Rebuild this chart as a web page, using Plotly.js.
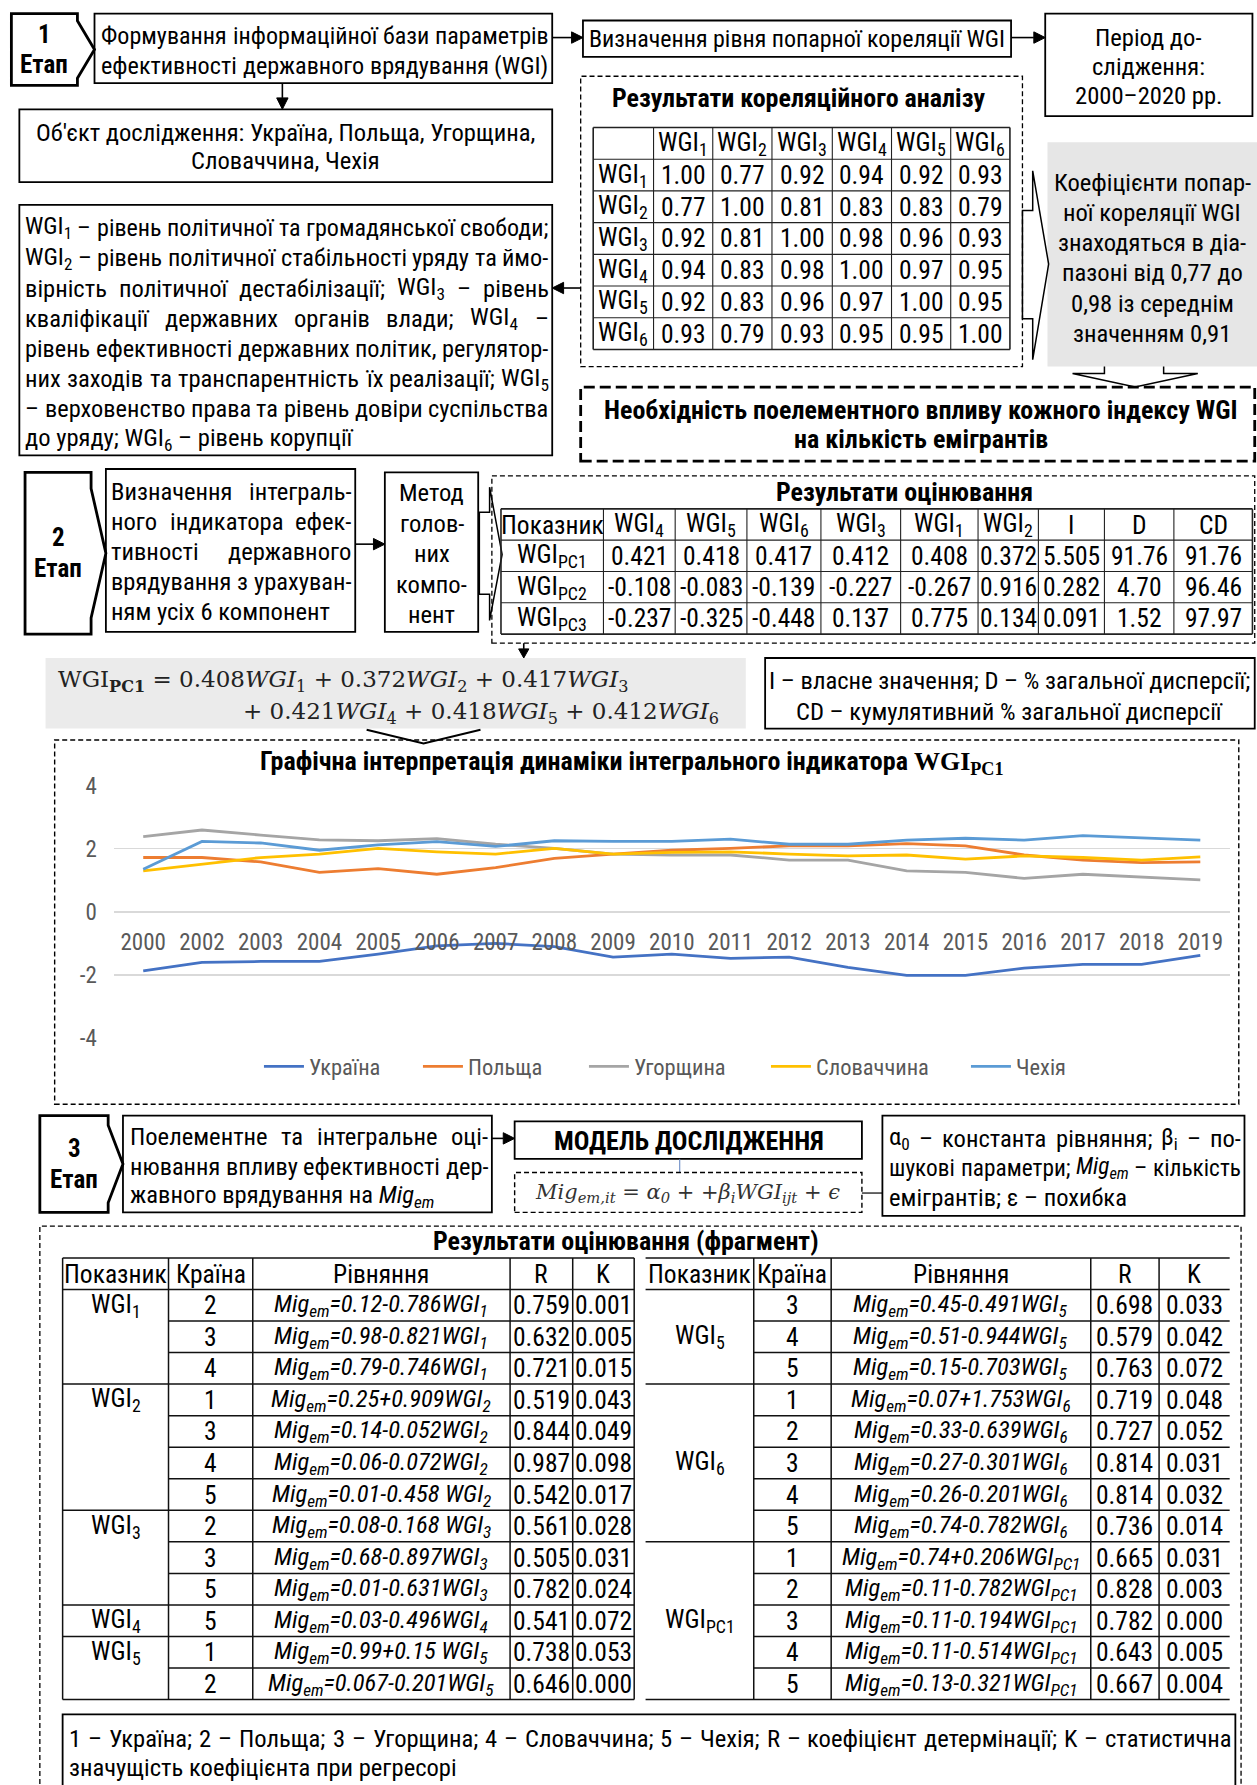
<!DOCTYPE html>
<html><head><meta charset="utf-8">
<script src="https://cdn.plot.ly/plotly-3.0.1.min.js"></script>
<style>html,body{margin:0;padding:0;background:#fff}</style>
</head><body>
<div id="chart" style="width:1257px;height:1785px"></div>
<script>
// ---------------- DATA ----------------
const years = ['2000','2002','2003','2004','2005','2006','2007','2008','2009','2010','2011','2012','2013','2014','2015','2016','2017','2018','2019'];
const countries = ['Україна','Польща','Угорщина','Словаччина','Чехія'];
const ukraine  = [-1.87,-1.60,-1.57,-1.57,-1.34,-1.08,-1.00,-1.10,-1.43,-1.34,-1.47,-1.43,-1.76,-2.01,-2.01,-1.78,-1.66,-1.66,-1.38];
const poland   = [1.72,1.72,1.58,1.25,1.37,1.19,1.40,1.69,1.83,1.95,2.01,2.09,2.09,2.16,2.09,1.80,1.64,1.56,1.58];
const hungary  = [2.38,2.59,2.43,2.28,2.25,2.32,2.14,2.01,1.83,1.80,1.80,1.64,1.64,1.30,1.25,1.06,1.19,1.11,1.01];
const slovakia = [1.30,1.51,1.72,1.83,2.01,1.90,1.83,2.01,1.83,1.88,1.90,1.83,1.77,1.80,1.67,1.77,1.72,1.64,1.74];
const czechia  = [1.35,2.23,2.18,1.95,2.12,2.22,2.07,2.25,2.23,2.23,2.30,2.14,2.14,2.27,2.33,2.27,2.41,2.33,2.27];
const seriesColors = ['#4472C4','#ED7D31','#A5A5A5','#FFC000','#5B9BD5'];
const yTickValues = [-4,-2,0,2,4];
const yTickLabels = ['-4','-2','0','2','4'];

const corrLabels = ['1','2','3','4','5','6'];
const corrMatrix = [
  [1.00,0.77,0.92,0.94,0.92,0.93],
  [0.77,1.00,0.81,0.83,0.83,0.79],
  [0.92,0.81,1.00,0.98,0.96,0.93],
  [0.94,0.83,0.98,1.00,0.97,0.95],
  [0.92,0.83,0.96,0.97,1.00,0.95],
  [0.93,0.79,0.93,0.95,0.95,1.00]];

const pcaOrder = [4,5,6,3,1,2];
const pcaComponents = ['PC1','PC2','PC3'];
const pcaLoadings = [
  [0.421,0.418,0.417,0.412,0.408,0.372],
  [-0.108,-0.083,-0.139,-0.227,-0.267,0.916],
  [-0.237,-0.325,-0.448,0.137,0.775,0.134]];
const pcaEigen = [5.505,0.282,0.091];
const pcaVarPct = [91.76,4.70,1.52];
const pcaCumPct = [91.76,96.46,97.97];
const formulaCoefs = [0.408,0.372,0.417,0.421,0.418,0.412];   // WGI1..WGI6 as printed in the formula

const regHeader = ['Показник','Країна','Рівняння','R','K'];
const regLeftIndex   = ['1','1','1','2','2','2','2','3','3','3','4','5','5'];
const regLeftCountry = [2,3,4,1,3,4,5,2,3,5,5,1,2];
const regLeftCoef    = ['0.12-0.786','0.98-0.821','0.79-0.746','0.25+0.909','0.14-0.052','0.06-0.072','0.01-0.458 ','0.08-0.168 ','0.68-0.897','0.01-0.631','0.03-0.496','0.99+0.15 ','0.067-0.201'];
const regLeftR       = [0.759,0.632,0.721,0.519,0.844,0.987,0.542,0.561,0.505,0.782,0.541,0.738,0.646];
const regLeftK       = [0.001,0.005,0.015,0.043,0.049,0.098,0.017,0.028,0.031,0.024,0.072,0.053,0.000];
const regRightIndex   = ['5','5','5','6','6','6','6','6','PC1','PC1','PC1','PC1','PC1'];
const regRightCountry = [3,4,5,1,2,3,4,5,1,2,3,4,5];
const regRightCoef    = ['0.45-0.491','0.51-0.944','0.15-0.703','0.07+1.753','0.33-0.639','0.27-0.301','0.26-0.201','0.74-0.782','0.74+0.206','0.11-0.782','0.11-0.194','0.11-0.514','0.13-0.321'];
const regRightR       = [0.698,0.579,0.763,0.719,0.727,0.814,0.814,0.736,0.665,0.828,0.782,0.643,0.667];
const regRightK       = [0.033,0.042,0.072,0.048,0.052,0.031,0.032,0.014,0.031,0.003,0.000,0.005,0.004];

// ---------------- HELPERS ----------------
const W = 1104, H = 1568, K = 1257 / 1104;
const px = x => x / W, py = y => 1 - y / H;
const SANS = '"Roboto Condensed", "Liberation Sans", sans-serif';
const SERIF = '"DejaVu Serif", "Liberation Serif", serif';
const FS = 24.6, FB = 26, FT = 25.5;
const shapes = [], annotations = [];
const r1 = v => Math.round(v*10)/10;

function rect(x0, y0, x1, y1, o = {}) {
  shapes.push({type:'rect', xref:'paper', yref:'paper', x0:px(x0), x1:px(x1), y0:py(y1), y1:py(y0),
    line:{color:o.color||'#000', width:(o.w===undefined?1.8:o.w), dash:o.dash||'solid'},
    fillcolor:o.fill||'rgba(0,0,0,0)', layer:o.layer||'above'});
}
function seg(x0, y0, x1, y1, o = {}) {
  shapes.push({type:'line', xref:'paper', yref:'paper', x0:px(x0), x1:px(x1), y0:py(y0), y1:py(y1),
    line:{color:o.color||'#000', width:o.w||1.4, dash:o.dash||'solid'}, layer:'above'});
}
function poly(pts, o = {}) {
  const d = pts.map((p,i)=>(i?'L':'M')+px(p[0]).toFixed(6)+','+py(p[1]).toFixed(6)).join(' ') + (o.open?'':' Z');
  shapes.push({type:'path', xref:'paper', yref:'paper', path:d,
    line:{color:o.color||'#000', width:o.w||1.8}, fillcolor:o.fill||'rgba(0,0,0,0)', layer:'above'});
}
function arrow(x0, y0, x1, y1, o = {}) {
  const L = o.head||10, hw = o.hw||5;
  const dx = x1-x0, dy = y1-y0, len = Math.hypot(dx,dy), ux = dx/len, uy = dy/len;
  const bx = x1-ux*L, by = y1-uy*L;
  seg(x0, y0, bx, by, {w:o.w||1.6});
  poly([[x1,y1],[bx-uy*hw, by+ux*hw],[bx+uy*hw, by-ux*hw]], {fill:'#000', w:1});
}
function txt(x, y, s, o = {}) {
  annotations.push({xref:'paper', yref:'paper', x:px(x), y:py(y), text:s, showarrow:false,
    xanchor:o.anchor||'center', yanchor:'middle', align:o.anchor||'center', borderpad:0,
    font:{family:o.family||SANS, size:o.size||FS, color:o.color||'#000',
          weight:o.bold?'bold':'normal', style:o.italic?'italic':'normal'}});
}
const ctx = document.createElement('canvas').getContext('2d');
function measure(html, size, family) {
  let w = 0, it = false, b = false, sb = false, m;
  const re = /<(\/?)(b|i|sub|sup)>|([^<]+)/g;
  while ((m = re.exec(html)) !== null) {
    if (m[3] !== undefined) {
      const s = sb ? size*0.7 : size;
      ctx.font = (it?'italic ':'') + (b?'bold ':'') + s + 'px ' + family;
      w += ctx.measureText(m[3]).width;
    } else {
      const on = m[1] !== '/';
      if (m[2] === 'i') it = on; else if (m[2] === 'b') b = on; else sb = on;
    }
  }
  return w;
}
function justify(x0, x1, y, s, o = {}) {
  let size = o.size||FS; const fam = o.family||SANS;
  const words = s.split(' ').filter(w => w.length);
  const avail = (x1-x0)*K, n = words.length;
  let ws = words.map(w => measure(w, size, fam));
  let tot = ws.reduce((a,b)=>a+b, 0);
  const minGap = 0.22*size;
  if (n > 1 && tot + minGap*(n-1) > avail) {
    size = r1(size * (avail - minGap*(n-1)) / tot - 0.05);
    ws = words.map(w => measure(w, size, fam));
    tot = ws.reduce((a,b)=>a+b, 0);
  }
  const gap = n > 1 ? (avail - tot)/(n-1) : 0;
  let cur = x0*K;
  words.forEach((w,i) => {
    annotations.push({xref:'paper', yref:'paper', x:cur/1257, y:py(y), text:w, showarrow:false,
      xanchor:'left', yanchor:'middle', borderpad:0, font:{family:fam, size:size, color:'#000'}});
    cur += ws[i] + gap;
  });
}
function paragraph(x0, x1, ys, lines, o = {}) {
  lines.forEach((l,i) => {
    if (i < lines.length-1 || o.all) justify(x0, x1, ys[i], l, o);
    else txt(x0, ys[i], l, {anchor:'left', size:o.size});
  });
}
function stage(x0, y0, xr, xp, y1, num) {
  const h = y1-y0, d = h*0.1, ym = (y0+y1)/2;
  poly([[x0,y0],[xr,y0],[xr,y0+d],[xp,ym],[xr,y1-d],[xr,y1],[x0,y1]], {w:2.8});
  txt((x0+xr)/2, ym-13.5, num, {size:25, bold:true});
  txt((x0+xr)/2, ym+13.5, 'Етап', {size:25, bold:true});
}
const sub = s => 'WGI<sub>'+s+'</sub>';

// ---------------- ROW 1 ----------------
stage(10, 12, 68, 83, 75, '1');
rect(83, 12, 485, 73);
paragraph(88, 481, [32, 58], ['Формування інформаційної бази параметрів', 'ефективності державного врядування (WGI)'], {all:true});
arrow(485, 33, 512, 33);
rect(512, 18, 888, 50);
txt(700, 34, 'Визначення рівня попарної кореляції WGI', {size:24});
arrow(888, 33, 918, 33);
rect(918, 12, 1100, 102);
txt(1009, 33, 'Період до-'); txt(1009, 58, 'слідження:'); txt(1009, 84, '2000–2020 рр.');
arrow(248, 73, 248, 96);
rect(17, 96, 485, 160);
txt(251, 116, "Об'єкт дослідження: Україна, Польща, Угорщина,"); txt(251, 141, 'Словаччина, Чехія');

// correlation block
rect(510, 67, 898, 322, {dash:'5px,3px', w:1.3});
txt(701, 86, 'Результати кореляційного аналізу', {size:FB, bold:true});
(function(){
  const cx = [521,574,626,678,731,783,835,887];
  const y0 = 112, rh = (307-112)/7;
  for (let r = 0; r <= 7; r++) seg(cx[0], y0+r*rh, cx[7], y0+r*rh, {w:(r===0||r===7)?1.6:1.1, color:'#222'});
  cx.forEach((x,i) => seg(x, y0, x, y0+7*rh, {w:(i===0||i===7)?1.6:1.1, color:'#222'}));
  corrLabels.forEach((l,c) => txt((cx[c+1]+cx[c+2])/2, y0+rh/2, sub(l), {size:FT}));
  corrMatrix.forEach((row,r) => {
    const yc = y0+(r+1.5)*rh;
    txt((cx[0]+cx[1])/2, yc, sub(corrLabels[r]), {size:FT});
    row.forEach((v,c) => txt((cx[c+1]+cx[c+2])/2, yc, v.toFixed(2), {size:FT}));
  });
})();

rect(17, 180, 485, 400);
paragraph(21, 481, [200,226.5,253,279.5,306,332.5,359,385.5], [
  'WGI<sub>1</sub> – рівень політичної та громадянської свободи;',
  'WGI<sub>2</sub> – рівень політичної стабільності уряду та ймо-',
  'вірність політичної дестабілізації; WGI<sub>3</sub> – рівень',
  'кваліфікації державних органів влади; WGI<sub>4</sub> –',
  'рівень ефективності державних політик, регулятор-',
  'них заходів та транспарентність їх реалізації; WGI<sub>5</sub>',
  '– верховенство права та рівень довіри суспільства',
  'до уряду; WGI<sub>6</sub> – рівень корупції']);
arrow(510, 253, 485, 253);

rect(920, 125, 1104, 322, {fill:'#e6e6e6', w:0});
['Коефіцієнти попар-','ної кореляції WGI','знаходяться в діа-','пазоні від 0,77 до','0,98 із середнім','значенням 0,91']
  .forEach((l,i) => txt(1012, 160+i*26.6, l));
poly([[898,185],[907,185],[907,150],[921,232],[907,316],[907,280],[898,280]], {w:1.5});
poly([[970,322],[970,328],[942,328],[997,340],[1052,328],[1022,328],[1022,322]], {w:1.5, open:true});

rect(510, 340, 1102, 405, {dash:'11px,5px', w:2.8});
txt(809, 360, 'Необхідність поелементного впливу кожного індексу WGI', {size:FB, bold:true});
txt(809, 386, 'на кількість емігрантів', {size:FB, bold:true});

// ---------------- STAGE 2 ----------------
stage(22, 415, 80, 93, 557, '2');
rect(93, 412, 312, 555);
paragraph(97, 308, [432,458,484.5,511,537], ['Визначення інтеграль-','ного індикатора ефек-','тивності державного','врядування з урахуван-','ням усіх 6 компонент']);
arrow(312, 478, 338, 478);
rect(338, 415, 420, 555);
['Метод','голов-','них','компо-','нент'].forEach((l,i) => txt(379, 433+i*26.7, l));
poly([[421,450],[430,450],[430,428],[441,487],[430,545],[430,522],[421,522]], {w:1.5});

rect(432, 418, 1102, 565, {dash:'5px,3px', w:1.3});
txt(794, 432, 'Результати оцінювання', {size:FB, bold:true});
(function(){
  const cx = [440,530,593,656,721,791,859,912,970,1031,1100];
  const y0 = 447, rh = 27.5;
  for (let r = 0; r <= 4; r++) seg(cx[0], y0+r*rh, cx[10], y0+r*rh, {w:(r===0||r===4)?1.6:1.1, color:'#222'});
  cx.forEach((x,i) => seg(x, y0, x, y0+4*rh, {w:(i===0||i===10)?1.6:1.1, color:'#222'}));
  const hdr = ['Показник'].concat(pcaOrder.map(k => sub(String(k))), ['I','D','CD']);
  hdr.forEach((h,c) => txt((cx[c]+cx[c+1])/2, y0+rh/2, h, {size:FT}));
  pcaComponents.forEach((pc,r) => {
    const yc = y0+(r+1.5)*rh;
    const vals = [sub(pc)].concat(pcaLoadings[r].map(v => v.toFixed(3)),
      [pcaEigen[r].toFixed(3), pcaVarPct[r].toFixed(2), pcaCumPct[r].toFixed(2)]);
    vals.forEach((v,c) => txt((cx[c]+cx[c+1])/2, yc, v, {size:FT}));
  });
})();
arrow(460, 565, 460, 578, {head:8, hw:4.5});

// ---------------- FORMULA ROW ----------------
rect(40, 578, 655, 640, {fill:'#ebebeb', w:0});
(function(){
  const term = k => formulaCoefs[k-1].toFixed(3) + '<i>WGI</i><sub>' + k + '</sub>';
  txt(50, 598, 'WGI<sub><b>PC1</b></sub> = ' + term(1) + ' + ' + term(2) + ' + ' + term(3), {anchor:'left', family:SERIF, size:23, color:'#222'});
  annotations.push({xref:'paper', yref:'paper', x:px(632), y:py(626), text:'+ ' + term(4) + ' + ' + term(5) + ' + ' + term(6),
    showarrow:false, xanchor:'right', yanchor:'middle', borderpad:0, font:{family:SERIF, size:23, color:'#222'}});
})();
rect(672, 578, 1102, 640);
txt(887, 598, 'I – власне значення; D – % загальної дисперсії;');
txt(887, 625, 'CD – кумулятивний % загальної дисперсії');
poly([[322,641],[372,653],[422,641]], {open:true, w:2});

// ---------------- CHART BOX ----------------
rect(48, 650, 1088, 970, {dash:'5px,3px', w:1.4});
txt(555, 670, 'Графічна інтерпретація динаміки інтегрального індикатора <span style="font-family:Liberation Serif">WGI<sub>PC1</sub></span>', {size:FB, bold:true});

// ---------------- STAGE 3 ----------------
stage(35, 980, 95, 108, 1065, '3');
rect(108, 980, 432, 1065);
paragraph(113, 428, [998,1025,1051], ['Поелементне та інтегральне оці-','нювання впливу ефективності дер-','жавного врядування на <i>Mig<sub>em</sub></i>']);
arrow(432, 1000, 452, 1000);
rect(452, 985, 757, 1018);
txt(605, 1002, 'МОДЕЛЬ ДОСЛІДЖЕННЯ', {size:FB, bold:true});
seg(597, 1018, 597, 1030, {color:'#5b7fbf', w:1});
rect(452, 1030, 757, 1065, {dash:'5px,3px', w:1.4});
txt(604, 1048, 'Mig<sub>em,it</sub> = α<sub>0</sub> + +β<sub>i</sub>WGI<sub>ijt</sub> + ϵ', {family:SERIF, size:21, color:'#333', italic:true});
seg(757, 1048, 775, 1048, {w:1.2});
rect(775, 980, 1093, 1068);
paragraph(780, 1089, [1000,1026,1052], ['α<sub>0</sub> – константа рівняння; β<sub>i</sub> – по-','шукові параметри; <i>Mig<sub>em</sub></i> – кількість','емігрантів; ε – похибка']);

// ---------------- REGRESSION TABLES ----------------
rect(35, 1077, 1090, 1580, {dash:'5px,3px', w:1.3});
txt(550, 1090, 'Результати оцінювання (фрагмент)', {size:FB, bold:true});
function regTable(cx, idx, ctry, coef, R, Kv, o) {
  const y0 = 1105, rh = (1493-1105)/14, n = idx.length;
  const x0 = cx[0], x1 = cx[cx.length-1];
  const yy = i => y0 + i*rh;
  const lw = {w:1.5, color:'#111'};
  seg(x0, yy(0), x1, yy(0), lw); seg(x0, yy(1), x1, yy(1), lw);
  for (let r = 1; r < n; r++) seg(idx[r] !== idx[r-1] ? x0 : cx[1], yy(r+1), x1, yy(r+1), lw);
  seg(x0, yy(n+1), x1, yy(n+1), lw);
  cx.forEach((x,c) => { if (o.outer || (c>0 && c<cx.length-1)) seg(x, yy(0), x, yy(n+1), lw); });
  regHeader.forEach((h,c) => txt((cx[c]+cx[c+1])/2, yy(0)+rh/2, h, {size:FT}));
  let start = 0;
  for (let r = 1; r <= n; r++) {
    if (r === n || idx[r] !== idx[start]) {
      const lr = o.mid ? (start + r - 1)/2 : start;
      txt((cx[0]+cx[1])/2, yy(lr+1)+rh/2, sub(idx[start]), {size:FT});
      start = r;
    }
  }
  for (let r = 0; r < n; r++) {
    const yc = yy(r+1)+rh/2;
    txt((cx[1]+cx[2])/2, yc, String(ctry[r]), {size:FT});
    txt((cx[2]+cx[3])/2, yc, 'Mig<sub>em</sub>=' + coef[r] + 'WGI<sub>' + idx[r] + '</sub>', {size:24.5, italic:true});
    txt((cx[3]+cx[4])/2, yc, R[r].toFixed(3), {size:FT});
    txt((cx[4]+cx[5])/2, yc, Kv[r].toFixed(3), {size:FT});
  }
}
regTable([55,148,222,448,503,557], regLeftIndex, regLeftCountry, regLeftCoef, regLeftR, regLeftK, {outer:true, mid:false});
regTable([567,662,730,958,1018,1080], regRightIndex, regRightCountry, regRightCoef, regRightR, regRightK, {outer:false, mid:true});

rect(55, 1506, 1085, 1572, {w:1.8});
paragraph(60, 1081, [1527,1553], ['1 – Україна; 2 – Польща; 3 – Угорщина; 4 – Словаччина; 5 – Чехія; R – коефіцієнт детермінації; K – статистична','значущість коефіцієнта при регресорі']);

// ---------------- CHART ----------------
const seriesData = [ukraine, poland, hungary, slovakia, czechia];
const legendWidths = [104, 111, 127, 145, null];
const traces = seriesData.map((s,i) => {
  const t = {type:'scatter', mode:'lines', x:years, y:s, name:countries[i],
    line:{color:seriesColors[i], width:2.8}, hoverinfo:'skip'};
  if (legendWidths[i]) t.legendwidth = legendWidths[i];
  return t;
});
const layout = {
  width:1257, height:1785, autosize:false,
  margin:{l:0, r:0, t:0, b:0},
  paper_bgcolor:'#fff', plot_bgcolor:'rgba(0,0,0,0)',
  xaxis:{type:'category', domain:[px(100), px(1080)], anchor:'free', position:py(801),
    range:[-0.5, 18.5], showgrid:false, zeroline:false, showline:false, ticks:'',
    ticklabelstandoff:14, tickfont:{family:SANS, size:23, color:'#595959'}, fixedrange:true},
  yaxis:{domain:[py(912), py(690)], range:[-4, 4], tickvals:yTickValues, ticktext:yTickLabels,
    gridcolor:'#d9d9d9', gridwidth:1.6, zeroline:false, showline:false, ticks:'',
    ticklabelstandoff:16, tickfont:{family:SANS, size:23, color:'#595959'}, fixedrange:true},
  showlegend:true,
  legend:{orientation:'h', x:0.529, xanchor:'center', y:py(937), yanchor:'middle',
    font:{family:SANS, size:22.5, color:'#595959'}, bgcolor:'rgba(0,0,0,0)', itemwidth:40},
  shapes:shapes, annotations:annotations
};
Plotly.newPlot('chart', traces, layout, {staticPlot:true, displayModeBar:false});
</script>
</body></html>
